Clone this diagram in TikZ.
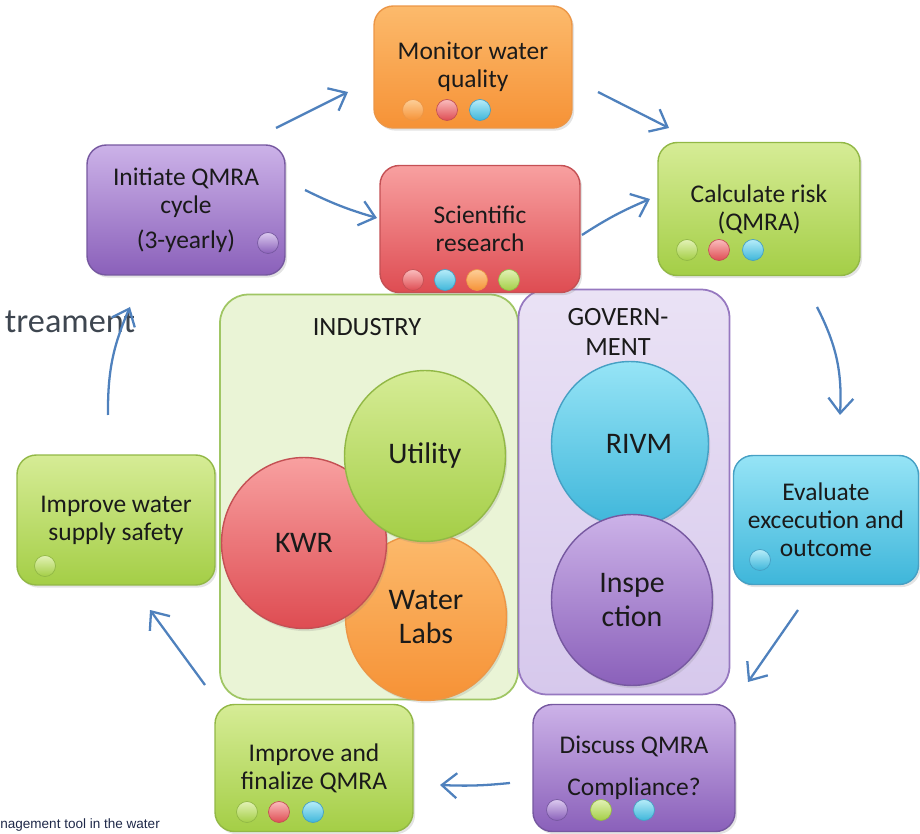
\documentclass[tikz,border=0pt]{standalone}
\usepackage{fontspec}
\setmainfont{Carlito}
\newfontfamily\captionfont{Liberation Sans}
\usetikzlibrary{arrows.meta, shadows, shapes.geometric}

% colour families: top / bottom / border
\definecolor{orangetop}{RGB}{252,186,108}
\definecolor{orangebot}{RGB}{246,146,54}
\definecolor{orangeline}{RGB}{236,150,70}
\definecolor{redtop}{RGB}{248,160,160}
\definecolor{redbot}{RGB}{222,76,82}
\definecolor{redline}{RGB}{196,80,84}
\definecolor{greentop}{RGB}{214,236,150}
\definecolor{greenbot}{RGB}{164,206,70}
\definecolor{greenline}{RGB}{146,184,70}
\definecolor{purpletop}{RGB}{204,178,232}
\definecolor{purplebot}{RGB}{138,96,186}
\definecolor{purpleline}{RGB}{118,88,160}
\definecolor{cyantop}{RGB}{150,228,246}
\definecolor{cyanbot}{RGB}{62,182,218}
\definecolor{cyanline}{RGB}{70,160,196}
\definecolor{industryfill}{RGB}{234,244,214}
\definecolor{industryline}{RGB}{160,198,100}
\definecolor{govtop}{RGB}{234,226,245}
\definecolor{govbot}{RGB}{214,200,236}
\definecolor{govline}{RGB}{150,120,192}
\definecolor{flowblue}{RGB}{79,129,189}
\definecolor{inktext}{RGB}{26,26,26}
\definecolor{notegray}{RGB}{62,70,80}
\definecolor{captionblue}{RGB}{30,40,72}

\newcommand\taskfont{\fontsize{14.5}{16}\selectfont}
\newcommand\actorfont{\fontsize{17}{19}\selectfont}

\begin{document}
\begin{tikzpicture}[x=0.02cm, y=-0.02cm,
    task/.style={
      rectangle,
      rounded corners=11pt,
      draw=#1line,
      line width=0.8pt,
      top color=#1top,
      bottom color=#1bot,
      minimum width=3.96cm,
      minimum height=2.6cm,
      align=center,
      font=\taskfont,
      text=inktext,
      drop shadow={opacity=0.22, shadow xshift=1.2pt, shadow yshift=-1.5pt}
    },
    actor/.style={
      ellipse,
      draw=#1line,
      line width=0.8pt,
      top color=#1top,
      bottom color=#1bot,
      minimum width=3.22cm,
      minimum height=3.42cm,
      align=center,
      font=\actorfont,
      text=inktext,
      drop shadow={opacity=0.2, shadow xshift=1pt, shadow yshift=-1.5pt}
    },
    dot/.style={
      circle,
      inner sep=0pt,
      minimum size=4.2mm,
      draw=#1line,
      top color=#1top!70!white,
      bottom color=#1bot
    },
    panel/.style={
      rectangle,
      rounded corners=16pt,
      line width=1pt,
      minimum height=8.1cm
    },
    heading/.style={
      font=\fontsize{15}{17}\selectfont,
      text=inktext,
      align=center
    },
    flow/.style={
      draw=flowblue,
      line width=1.3pt,
      -{Straight Barb[length=3mm, width=5mm]}
    }
  ]

  \useasboundingbox (0,0) rectangle (920,834);

  % Partners
  \node[panel, draw=industryline, fill=industryfill, minimum width=5.96cm] (industry) at (369,497) {};
  \node[panel, draw=govline, top color=govtop, bottom color=govbot, minimum width=4.22cm] (government) at (624,492) {};
  \node[heading] (industrytitle) at (367,327) {INDUSTRY};
  \node[heading] (govtitle) at (618,332) {GOVERN-\\MENT};

  \node[actor=orange, minimum height=3.34cm] (labs) at (426,617) {Water\\Labs};
  \node[actor=red, minimum width=3.3cm] (kwr) at (304,543) {KWR};
  \node[actor=green] (utility) at (425,456) {Utility};
  \node[actor=cyan, minimum width=3.14cm, minimum height=3.3cm] (rivm) at (630,444) {\hspace{0.6em}RIVM};
  \node[actor=purple] (inspection) at (632,600) {Inspe\\ction};

  % Cycle steps
  \node[task=orange, minimum height=2.44cm] (monitor) at (473,67) {Monitor water\\quality};
  \node[task=purple] (initiate) at (186,210) {Initiate QMRA\\cycle\\[4pt](3-yearly)\hspace{1.3em}};
  \node[task=red, minimum width=4cm, minimum height=2.54cm] (research) at (480,229) {Scientific\\research};
  \node[task=green, minimum width=4.04cm, minimum height=2.66cm] (risk) at (759,209) {Calculate risk\\(QMRA)};
  \node[task=cyan, minimum width=3.7cm, minimum height=2.58cm] (evaluate) at (826,520) {Evaluate\\excecution and\\outcome};
  \node[task=purple, minimum width=4.04cm, minimum height=2.54cm] (discuss) at (634,768) {Discuss QMRA\\[8pt]Compliance?};
  \node[task=green, minimum height=2.54cm] (finalize) at (314,768) {Improve and\\finalize QMRA};
  \node[task=green] (supply) at (116,520) {Improve water\\supply safety};

  % Who takes part in each step
  \node[dot=orange] (monitor1) at (413,110) {};
  \node[dot=red] (monitor2) at (447,110) {};
  \node[dot=cyan] (monitor3) at (480,110) {};
  \node[dot=purple] (initiate1) at (268,243) {};
  \node[dot=red] (research1) at (413,280) {};
  \node[dot=cyan] (research2) at (445,280) {};
  \node[dot=orange] (research3) at (477,280) {};
  \node[dot=green] (research4) at (509,280) {};
  \node[dot=green] (risk1) at (687,250) {};
  \node[dot=red] (risk2) at (719,250) {};
  \node[dot=cyan] (risk3) at (753,250) {};
  \node[dot=cyan] (evaluate1) at (760,560) {};
  \node[dot=purple] (discuss1) at (557,810) {};
  \node[dot=green] (discuss2) at (601,810) {};
  \node[dot=cyan] (discuss3) at (644,810) {};
  \node[dot=green] (finalize1) at (247,812) {};
  \node[dot=red] (finalize2) at (279,812) {};
  \node[dot=cyan] (finalize3) at (313,812) {};
  \node[dot=green] (supply1) at (45,566) {};

  % Loose texts
  \node[font=\fontsize{19.5}{22}\selectfont, text=notegray] (treament) at (70,322) {treament};
  \node[anchor=base west, inner sep=0pt, font=\captionfont\fontsize{7.7}{9}\selectfont, text=captionblue] (caption) at (0,828) {nagement tool in the water};

  % Arrow ends
  \coordinate (s1) at (276,128); \coordinate (e1) at (348,92);
  \coordinate (s2) at (598,92);  \coordinate (e2) at (669,128);
  \coordinate (s3) at (305,190); \coordinate (e3) at (377,218);
  \coordinate (s4) at (582,235); \coordinate (e4) at (650,199);
  \coordinate (s5) at (817,307); \coordinate (e5) at (840,415);
  \coordinate (s6) at (798,610); \coordinate (e6) at (748,682);
  \coordinate (s7) at (510,783); \coordinate (e7) at (440,785);
  \coordinate (s8) at (205,685); \coordinate (e8) at (150,610);
  \coordinate (s9) at (108,415); \coordinate (e9) at (130,307);

  \draw[flow] (s1) -- (e1);
  \draw[flow] (s2) -- (e2);
  \draw[flow] (s3) to[bend right=5] (e3);
  \draw[flow] (s4) to[bend left=5] (e4);
  \draw[flow] (s5) to[bend left=15] (e5);
  \draw[flow] (s6) -- (e6);
  \draw[flow] (s7) to[bend left=4] (e7);
  \draw[flow] (s8) -- (e8);
  \draw[flow] (s9) to[bend left=12] (e9);

\end{tikzpicture}
\end{document}
